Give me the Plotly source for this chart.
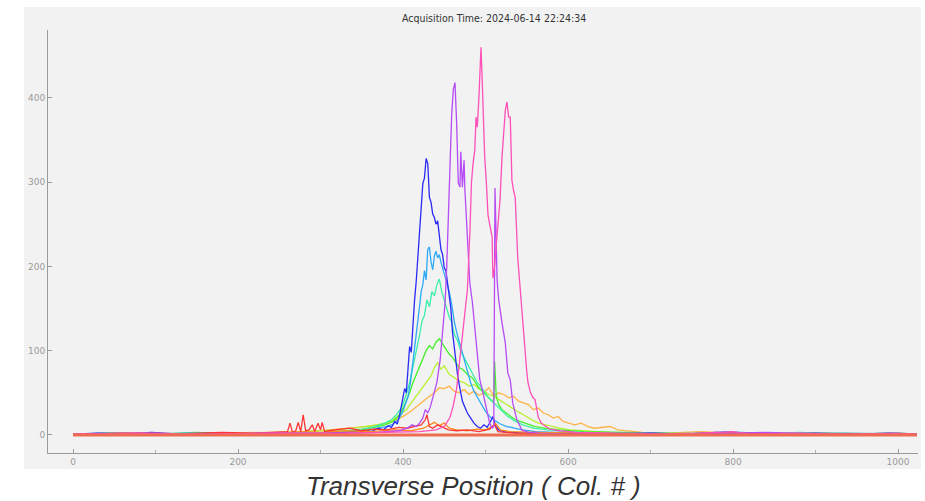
import plotly.graph_objects as go

# ---------------- data ----------------
X_TICKS = [0, 200, 400, 600, 800, 1000]
Y_TICKS = [0, 100, 200, 300, 400]
TITLE = "Acquisition Time: 2024-06-14 22:24:34"
XLABEL = "Transverse Position ( Col. # )"

X_ORANGE = [0, 60, 120, 180, 240, 280, 310, 335, 355, 370, 382, 392, 400, 408, 414, 420, 426, 432, 438, 444,
            450, 456, 462, 468, 474, 480, 486, 492, 498, 504, 510, 516, 522, 528, 534, 540, 546, 552, 558, 564,
            570, 576, 582, 588, 594, 600, 608, 616, 624, 632, 640, 651, 660, 672, 690, 720, 760, 800, 850, 900,
            960, 1023]
Y_ORANGE = [1, 2, 1, 2, 3, 4, 6, 8, 10, 12, 14, 18, 22, 27, 32, 36, 42, 46, 50, 56,
            55, 58, 52, 50, 54, 48, 52, 47, 50, 56, 46, 50, 48, 44, 46, 40, 38, 36, 30, 32,
            26, 24, 20, 22, 16, 14, 12, 14, 10, 8, 9, 10, 6, 5, 3, 2, 4, 2, 1, 2,
            1, 1]

X_YGREEN = [0, 60, 120, 180, 240, 290, 320, 340, 355, 368, 378, 388, 396, 404, 410, 416, 422, 428, 434, 438,
            442, 446, 450, 456, 462, 468, 474, 480, 486, 492, 498, 504, 510, 516, 522, 528, 534, 540, 546, 552,
            558, 564, 572, 580, 590, 602, 615, 630, 650, 680, 720, 780, 850, 920, 1000, 1023]
Y_YGREEN = [1, 2, 1, 2, 2, 4, 6, 8, 10, 12, 14, 18, 24, 30, 38, 46, 55, 62, 70, 80,
            86, 78, 82, 72, 68, 64, 62, 58, 60, 55, 52, 48, 46, 42, 38, 35, 30, 27, 24, 20,
            17, 14, 12, 10, 8, 6, 5, 4, 3, 2, 1, 2, 1, 2, 1, 1]

X_GREEN = [0, 50, 100, 150, 200, 250, 300, 330, 350, 365, 378, 388, 396, 402, 408, 412, 416, 420, 424, 428,
           432, 436, 440, 444, 448, 452, 456, 460, 464, 468, 472, 476, 480, 484, 488, 492, 496, 500, 504, 508,
           510, 511, 513, 516, 520, 525, 530, 536, 542, 550, 560, 572, 590, 620, 660, 720, 780, 850, 920, 1000,
           1023]
Y_GREEN = [1, 2, 1, 3, 1, 2, 2, 4, 6, 9, 12, 16, 24, 36, 50, 62, 72, 80, 92, 100,
           106, 102, 110, 114, 108, 102, 96, 92, 86, 80, 78, 74, 70, 68, 62, 56, 52, 48, 44, 40,
           42, 87, 46, 36, 30, 26, 22, 18, 16, 13, 10, 8, 6, 4, 3, 2, 1, 2, 1, 2,
           1]

X_MINT = [0, 50, 100, 150, 200, 250, 300, 330, 350, 365, 378, 386, 392, 398, 403, 408, 412, 416, 420, 423,
          426, 429, 432, 435, 438, 441, 444, 447, 450, 453, 456, 459, 462, 466, 470, 474, 478, 482, 486, 490,
          494, 498, 503, 508, 514, 520, 527, 535, 545, 558, 575, 600, 640, 700, 760, 820, 880, 940, 1000, 1023]
Y_MINT = [1, 2, 1, 2, 1, 3, 2, 5, 7, 10, 14, 18, 24, 32, 45, 62, 80, 100, 118, 135,
          142, 160, 152, 170, 165, 178, 185, 170, 160, 152, 140, 134, 120, 112, 100, 92, 84, 78, 70, 62,
          58, 52, 45, 40, 34, 28, 22, 17, 12, 8, 6, 4, 2, 1, 2, 1, 3, 1, 2, 1]

X_LBLUE = [0, 40, 90, 140, 190, 240, 290, 330, 355, 370, 380, 388, 394, 399, 403, 406, 409, 412, 414, 416,
           418, 420, 422, 424, 426, 428, 430, 432, 434, 436, 438, 440, 442, 444, 446, 448, 450, 453, 456, 459,
           462, 465, 468, 471, 474, 478, 482, 486, 490, 495, 500, 505, 510, 518, 526, 535, 545, 560, 580, 610,
           650, 700, 760, 790, 830, 880, 930, 980, 1023]
Y_LBLUE = [1, 2, 1, 2, 1, 2, 1, 3, 5, 8, 10, 13, 18, 26, 38, 45, 62, 85, 100, 120,
           135, 152, 170, 178, 195, 184, 220, 223, 205, 196, 212, 218, 210, 214, 205, 198, 190, 180, 170, 155,
           135, 122, 112, 100, 90, 76, 62, 52, 45, 36, 28, 22, 18, 13, 10, 8, 6, 4, 3, 2,
           1, 2, 1, 4, 2, 1, 2, 1, 1]

X_BLUE = [0, 30, 60, 95, 130, 170, 210, 250, 290, 330, 350, 362, 370, 376, 382, 386, 390, 393, 396, 399,
          402, 404, 406, 408, 410, 412, 414, 416, 418, 420, 422, 424, 426, 428, 430, 432, 434, 436, 438, 440,
          442, 444, 446, 448, 450, 452, 454, 456, 458, 460, 463, 466, 469, 472, 475, 478, 482, 486, 490, 494,
          498, 502, 506, 509, 512, 516, 522, 530, 545, 560, 590, 620, 660, 700, 740, 780, 800, 820, 860, 900,
          950, 990, 1023]
Y_BLUE = [1, 2, 1, 3, 1, 2, 1, 2, 1, 3, 5, 4, 8, 6, 11, 9, 16, 13, 24, 38,
          55, 50, 82, 105, 98, 135, 160, 182, 214, 238, 265, 298, 305, 328, 322, 282, 276, 262, 258, 250,
          254, 232, 220, 214, 198, 195, 180, 170, 150, 122, 95, 72, 55, 40, 33, 26, 20, 14, 10, 8,
          12, 9, 16, 22, 11, 6, 4, 3, 2, 3, 1, 2, 1, 2, 1, 3, 1, 2, 1, 2,
          1, 2, 1]

X_DORANGE = [0, 80, 160, 240, 280, 300, 330, 360, 390, 410, 425, 432, 438, 444, 450, 456, 465, 478, 490, 500,
             508, 512, 518, 530, 560, 620, 700, 800, 900, 1023]
Y_DORANGE = [1, 2, 1, 2, 4, 3, 5, 4, 6, 5, 8, 12, 15, 11, 14, 8, 6, 5, 7, 6,
             10, 14, 6, 4, 3, 2, 1, 2, 1, 1]

X_RED = [0, 60, 120, 180, 220, 250, 260, 263, 266, 270, 273, 276, 279, 282, 286, 290, 293, 297, 300, 302,
         305, 310, 320, 335, 350, 365, 380, 395, 405, 415, 422, 427, 429, 432, 436, 442, 448, 455, 465, 478,
         492, 505, 511, 515, 525, 540, 570, 620, 700, 800, 900, 1023]
Y_RED = [1, 2, 1, 3, 2, 3, 4, 14, 3, 5, 15, 4, 24, 5, 6, 12, 4, 14, 6, 15,
         4, 5, 6, 8, 5, 7, 6, 9, 8, 10, 12, 18, 24, 10, 8, 12, 9, 6, 5, 6,
         4, 7, 12, 4, 3, 2, 1, 2, 1, 2, 1, 1]

X_VIOLET = [0, 80, 160, 240, 320, 370, 395, 405, 411, 416, 420, 424, 427, 430, 433, 437, 441, 445, 448, 451,
            453, 455, 457, 459, 461, 463, 465, 467, 469, 470, 472, 474, 475, 477, 479, 481, 484, 487, 490, 493,
            496, 499, 502, 505, 508, 510, 511.5, 513, 514, 516, 518, 520, 524, 527, 530, 533, 538, 544, 552, 565,
            600, 680, 760, 840, 920, 1023]
Y_VIOLET = [1, 2, 1, 2, 2, 3, 5, 8, 12, 10, 14, 20, 30, 26, 33, 48, 62, 89, 125, 157,
            200, 260, 326, 380, 410, 418, 370, 299, 294, 336, 294, 326, 291, 253, 211, 180, 158, 128, 96, 66,
            54, 40, 26, 14, 8, 10, 293, 200, 184, 160, 145, 133, 109, 74, 65, 38, 18, 6, 3, 2,
            1, 2, 1, 3, 1, 1]

X_PINK = [0, 80, 160, 240, 320, 380, 420, 440, 450, 457, 461, 465, 469, 472, 475, 478, 481, 483, 485, 487,
          488.5, 490, 492, 494.5, 496, 498, 499, 501, 503, 505, 508, 509, 511, 513, 515, 517.6, 520, 522, 524, 526,
          528, 530, 532, 534, 536, 539, 542, 544, 546, 548, 550, 551.5, 554, 557, 560, 564, 567, 570, 578, 590,
          610, 650, 700, 760, 800, 820, 880, 940, 1000, 1023]
Y_PINK = [1, 2, 1, 2, 2, 3, 4, 6, 10, 21, 35, 55, 90, 120, 150, 172, 240, 300, 323, 338,
          377, 365, 400, 460, 420, 362, 330, 300, 261, 250, 235, 186, 200, 225, 247, 279, 330, 360, 385, 395,
          377, 377, 302, 290, 282, 211, 172, 145, 120, 93, 75, 62, 52, 45, 42, 21, 15, 12, 7, 5,
          3, 2, 1, 2, 4, 1, 2, 1, 2, 1]

X_BASE = [0, 1023]
Y_BASE = [0, 0]

SERIES = [
    ("orange", X_ORANGE, Y_ORANGE, "#ffb347", 1.3),
    ("yellowgreen", X_YGREEN, Y_YGREEN, "#b8f032", 1.3),
    ("green", X_GREEN, Y_GREEN, "#44f02a", 1.3),
    ("mint", X_MINT, Y_MINT, "#3cf0a8", 1.3),
    ("lightblue", X_LBLUE, Y_LBLUE, "#2eaaf5", 1.3),
    ("blue", X_BLUE, Y_BLUE, "#2a2af5", 1.3),
    ("darkorange", X_DORANGE, Y_DORANGE, "#ff8c1a", 1.3),
    ("red", X_RED, Y_RED, "#ff3535", 1.3),
    ("violet", X_VIOLET, Y_VIOLET, "#b54cf5", 1.3),
    ("pink", X_PINK, Y_PINK, "#ff4fb8", 1.3),
    ("base", X_BASE, Y_BASE, "#ee6c50", 3),
]

for name, xs, ys, _, _ in SERIES:
    assert len(xs) == len(ys), (name, len(xs), len(ys))

fig = go.Figure()
for name, xs, ys, col, w in SERIES:
    fig.add_trace(go.Scatter(x=xs, y=ys, mode="lines", name=name,
                             line=dict(color=col, width=w), showlegend=False,
                             hoverinfo="skip"))

L, R, T, B = 48, 7, 30, 48
W, H = 925, 501
pw, ph = W - L - R, H - T - B

def px(xp):
    return (xp - L) / pw

def py(yp):
    return (H - B - yp) / ph

fig.add_shape(type="rect", xref="paper", yref="paper",
              x0=px(24), x1=px(921), y0=py(469), y1=py(7),
              fillcolor="#f2f2f2", line=dict(width=0), layer="below")

axis_common = dict(showgrid=False, zeroline=False, showline=True,
                   linecolor="#9a9a9a", linewidth=1, ticks="inside", ticklen=4,
                   tickcolor="#9a9a9a", tickfont=dict(family="DejaVu Sans", size=9, color="#9a9a9a"))

fig.update_layout(
    width=W, height=H,
    margin=dict(l=L, r=R, t=T, b=B, pad=0),
    paper_bgcolor="white",
    plot_bgcolor="#f2f2f2",
    xaxis=dict(range=[-30.3, 1024.2], tickvals=X_TICKS,
               minor=dict(dtick=100, tick0=0, ticks="inside", ticklen=3, tickcolor="#b0b0b0"),
               **axis_common),
    yaxis=dict(range=[-21.4, 480.4], tickvals=Y_TICKS, **axis_common),
    annotations=[
        dict(text=TITLE, xref="paper", yref="paper", x=px(494), y=py(18),
             xanchor="center", yanchor="middle", showarrow=False,
             font=dict(family="DejaVu Sans Condensed, Liberation Sans Narrow", size=10.5, color="#333333")),
        dict(text="<i>" + XLABEL + "</i>", xref="paper", yref="paper", x=px(473), y=py(486),
             xanchor="center", yanchor="middle", showarrow=False,
             font=dict(family="Liberation Sans Narrow, Liberation Sans", size=26, color="#333333")),
    ],
)

fig.write_html("out.html")
